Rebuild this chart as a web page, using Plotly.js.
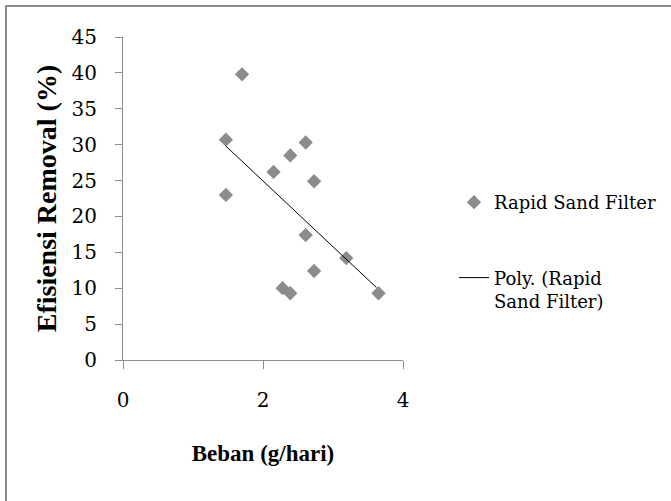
<!DOCTYPE html>
<html>
<head>
<meta charset="utf-8">
<script src="https://cdn.plot.ly/plotly-3.0.1.min.js"></script>
<style>html,body{margin:0;padding:0;background:#fff;}#chart{width:671px;height:501px;}</style>
</head>
<body>
<div id="chart"></div>
<script>
// Data
var bebanX = [1.47, 1.70, 1.47, 2.15, 2.39, 2.61, 2.73, 2.61, 2.73, 3.19, 2.28, 2.39, 3.65];
var efisiensiY = [30.7, 39.8, 23.0, 26.2, 28.5, 30.3, 24.9, 17.4, 12.4, 14.2, 10.0, 9.3, 9.3];
var trendX = [1.47, 3.62];
var trendY = [29.8, 10.1];
var xTickVals = [0, 2, 4];
var yTickVals = [0, 5, 10, 15, 20, 25, 30, 35, 40, 45];
var seriesName = "Rapid Sand Filter";
var trendName = "Poly. (Rapid<br>Sand Filter)";

var L = 123, R = 268, T = 37, B = 141, W = 671, H = 501;
var pw = W - L - R, ph = H - T - B;
function px(x){ return (x - L) / pw; }
function py(y){ return (H - B - y) / ph; }

var font = "Liberation Serif, serif";
var regFam = "DejaVu Serif";
var axisCol = "#8c8c8c";

var traces = [
  {x: bebanX, y: efisiensiY, type: "scatter", mode: "markers", name: seriesName,
   legendgroup: "a",
   marker: {symbol: "diamond", size: 11, color: "#8c8c8c", line: {width: 0}}, cliponaxis: false},
  {x: trendX, y: trendY, type: "scatter", mode: "lines", name: trendName,
   legendgroup: "b",
   line: {color: "#000000", width: 1}, cliponaxis: false}
];

var layout = {
  width: W, height: H,
  margin: {l: L, r: R, t: T, b: B, pad: 0, autoexpand: false},
  paper_bgcolor: "#ffffff", plot_bgcolor: "#ffffff",
  font: {family: font, color: "#000", size: 22},
  showlegend: true,
  legend: {x: px(454), xanchor: "left", y: py(184), yanchor: "top",
           font: {family: regFam, size: 18, color: "#000"}, tracegroupgap: 49,
           traceorder: "grouped", valign: "top", bgcolor: "rgba(0,0,0,0)"},
  xaxis: {range: [0, 4], tickvals: xTickVals, ticks: "outside", ticklen: 8, tickcolor: axisCol,
          showgrid: false, zeroline: false, showline: true, linecolor: axisCol, linewidth: 1,
          automargin: false,
          tickfont: {family: regFam, size: 20, color: "#000"}, ticklabelstandoff: 14,
          title: {text: "<b>Beban (g/hari)</b>", font: {family: font, size: 23, color: "#000"}, standoff: 33}},
  yaxis: {range: [0, 45], tickvals: yTickVals, ticks: "outside", ticklen: 7, tickcolor: axisCol,
          showgrid: false, zeroline: false, showline: true, linecolor: axisCol, linewidth: 1,
          automargin: false,
          tickfont: {family: regFam, size: 20, color: "#000"}, ticklabelstandoff: 14,
          title: {text: "<b>Efisiensi Removal (%)</b>", font: {family: font, size: 28, color: "#000"}, standoff: 6}},
  shapes: [
    {type: "line", xref: "paper", yref: "paper", x0: px(6), x1: px(671), y0: py(6), y1: py(6),
     line: {color: axisCol, width: 2}},
    {type: "line", xref: "paper", yref: "paper", x0: px(6), x1: px(6), y0: py(5), y1: py(501),
     line: {color: axisCol, width: 2}}
  ]
};

Plotly.newPlot("chart", traces, layout, {displayModeBar: false, staticPlot: true});
</script>
</body>
</html>
